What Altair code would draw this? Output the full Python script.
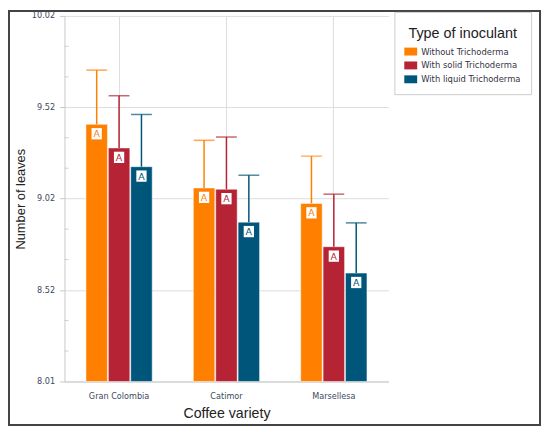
import altair as alt
import pandas as pd

varieties = ["Gran Colombia", "Catimor", "Marsellesa"]
inoculants = ["Without Trichoderma", "With solid Trichoderma", "With liquid Trichoderma"]
colors = ["#FF8000", "#B52335", "#00567A"]

mean_without = [9.424, 9.074, 8.989]
mean_solid = [9.294, 9.067, 8.751]
mean_liquid = [9.191, 8.886, 8.606]

upper_without = [9.722, 9.336, 9.249]
upper_solid = [9.581, 9.354, 9.040]
upper_liquid = [9.478, 9.144, 8.882]

letters_without = ["A", "A", "A"]
letters_solid = ["A", "A", "A"]
letters_liquid = ["A", "A", "A"]

tick_values = [8.01, 8.5125, 9.015, 9.5175, 10.02]
tick_labels = ["8.01", "8.52", "9.02", "9.52", "10.02"]

rows = []
for ino, means, ups, lets in [
    (inoculants[0], mean_without, upper_without, letters_without),
    (inoculants[1], mean_solid, upper_solid, letters_solid),
    (inoculants[2], mean_liquid, upper_liquid, letters_liquid),
]:
    for v, m, u, l in zip(varieties, means, ups, lets):
        rows.append({"variety": v, "inoculant": ino, "mean": m, "upper": u, "letter": l})
df = pd.DataFrame(rows)

step = (tick_values[-1] - tick_values[0]) / (len(tick_values) - 1)
minor = []
for a in tick_values[:-1]:
    minor += [a + step / 3, a + 2 * step / 3]
minor_df = pd.DataFrame({"v": minor})

labels_js = "[" + ",".join(f"'{t}'" for t in tick_labels) + "]"
label_expr = f"{labels_js}[round((datum.value - {tick_values[0]}) / {step})]"

yscale = alt.Scale(domain=[tick_values[0], tick_values[-1]], zero=False, nice=False)

xenc = alt.X(
    "variety:N", sort=varieties,
    scale=alt.Scale(paddingInner=0.383, paddingOuter=0.2),
    axis=alt.Axis(
        title="Coffee variety", labelAngle=0, ticks=False, labelPadding=11,
        titlePadding=7, grid=True,
    ),
)
xoff = alt.XOffset("inoculant:N", sort=inoculants, scale=alt.Scale(paddingInner=0.04))
cenc = alt.Color(
    "inoculant:N", sort=inoculants,
    scale=alt.Scale(domain=inoculants, range=colors),
    legend=alt.Legend(
        title="Type of inoculant", orient="none", legendX=333, legendY=-4,
        padding=10, strokeColor="#cccccc", fillColor="white",
        symbolType="M-1,-0.615H1V0.615H-1Z", symbolSize=169,
        symbolStrokeWidth=0, labelOffset=4, rowPadding=3,
        titlePadding=9, titleAnchor="middle",
        titleBaseline="line-top", titleLineHeight=24,
    ),
)

base = alt.Chart(df).encode(x=xenc, xOffset=xoff)

bars = base.mark_bar(stroke="white", strokeOpacity=0.5, strokeWidth=1).encode(
    y=alt.Y(
        "mean:Q", scale=yscale,
        axis=alt.Axis(
            title="Number of leaves", values=tick_values, labelExpr=label_expr,
            tickSize=5, labelPadding=5, titlePadding=4,
        ),
    ),
    y2=alt.datum(tick_values[0]),
    color=cenc,
)

err = base.mark_rule(strokeWidth=1.5).encode(
    y=alt.Y("mean:Q", scale=yscale), y2="upper:Q",
    color=alt.Color("inoculant:N", sort=inoculants, scale=alt.Scale(domain=inoculants, range=colors), legend=None),
)
caps = base.mark_tick(thickness=1.5, size=21).encode(
    y=alt.Y("upper:Q", scale=yscale),
    color=alt.Color("inoculant:N", sort=inoculants, scale=alt.Scale(domain=inoculants, range=colors), legend=None),
)
boxes = base.mark_point(
    shape="M-0.909,-1H0.909V1H-0.909Z", filled=True, fill="white", opacity=1,
    size=130, yOffset=9.5, strokeWidth=0,
).encode(y=alt.Y("mean:Q", scale=yscale))
letters = base.mark_text(
    font="DejaVu Sans", fontSize=9.5, baseline="middle", align="center", yOffset=10,
).encode(
    y=alt.Y("mean:Q", scale=yscale), text="letter:N",
    color=alt.Color("inoculant:N", sort=inoculants, scale=alt.Scale(domain=inoculants, range=colors), legend=None),
)

minor_ticks = alt.Chart(minor_df).mark_rule(color="#cccccc", strokeWidth=1).encode(
    y=alt.Y("v:Q", scale=yscale), x=alt.value(0), x2=alt.value(4)
)

frame = alt.Chart(pd.DataFrame({"a": [0]})).mark_rect(
    fill="white", fillOpacity=0, stroke="#444444", strokeWidth=2
).encode(x=alt.value(-56), x2=alt.value(480), y=alt.value(-5), y2=alt.value(413))

chart = alt.layer(frame, bars, err, caps, boxes, letters, minor_ticks).properties(
    width=327, height=369,
    autosize=alt.AutoSizeParams(type="none"),
    padding={"left": 57, "top": 6, "right": 155, "bottom": 47},
).configure_view(strokeWidth=0).configure_axis(
    labelFont="DejaVu Sans", labelFontSize=8.2, labelColor="#404860",
    titleFont="Liberation Sans", titleFontWeight="normal", titleColor="#222222",
    domainColor="#c8c8c8", tickColor="#c8c8c8", gridColor="#dddddd",
).configure_axisX(titleFontSize=14.3).configure_axisY(titleFontSize=13).configure_legend(
    titleFont="Liberation Sans", titleFontSize=14.5, titleFontWeight="normal",
    titleColor="#222222", labelFont="DejaVu Sans", labelFontSize=8.5, labelColor="#333344",
)

chart.save("out.html", embed_options={"renderer": "svg", "actions": False})
